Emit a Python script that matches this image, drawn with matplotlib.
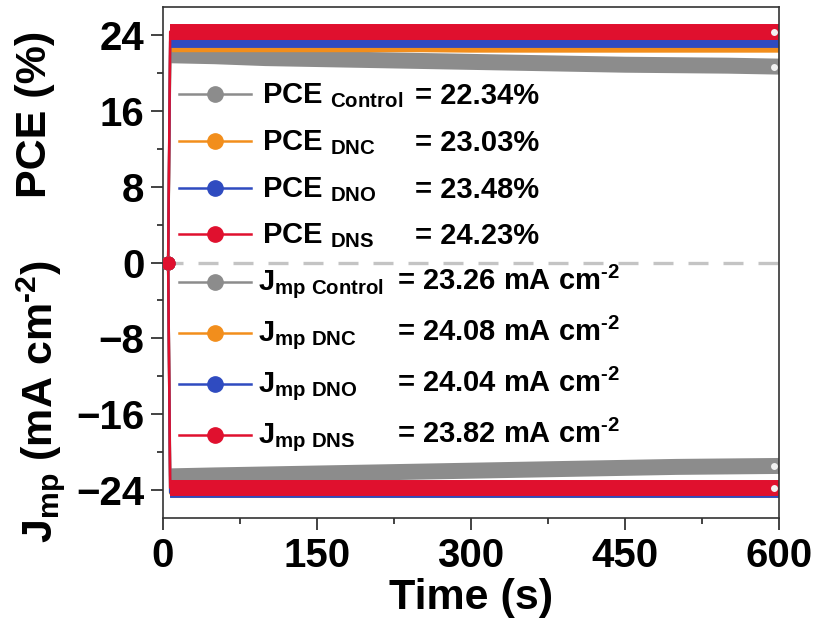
import matplotlib
matplotlib.use("Agg")
import matplotlib.pyplot as plt
from matplotlib.ticker import MultipleLocator

plt.rcParams['font.family'] = ['Liberation Sans', 'DejaVu Sans']
plt.rcParams['font.weight'] = 'bold'
plt.rcParams['mathtext.fontset'] = 'custom'
plt.rcParams['mathtext.rm'] = 'Liberation Sans:bold'
plt.rcParams['mathtext.it'] = 'Liberation Sans:bold'
plt.rcParams['mathtext.bf'] = 'Liberation Sans:bold'

# time points (s)
time_s = [5, 7, 50, 100, 150, 200, 250, 300, 350, 400, 450, 500, 550, 600]

# PCE (%)
pce_control = [0, 21.9, 21.8, 21.6, 21.5, 21.4, 21.3, 21.2, 21.1, 21.0, 20.9, 20.85, 20.8, 20.7]
pce_dnc = [0, 22.7, 22.7, 22.7, 22.7, 22.7, 22.7, 22.65, 22.65, 22.65, 22.65, 22.65, 22.65, 22.65]
pce_dno = [0, 23.35, 23.35, 23.35, 23.35, 23.35, 23.35, 23.35, 23.35, 23.35, 23.35, 23.35, 23.35, 23.35]
pce_dns = [0, 24.4, 24.4, 24.4, 24.4, 24.4, 24.4, 24.4, 24.4, 24.4, 24.4, 24.4, 24.4, 24.4]

# Jmp (mA cm-2)
jmp_control = [0, -22.6, -22.5, -22.4, -22.3, -22.2, -22.1, -22.0, -21.9, -21.8, -21.7, -21.6, -21.55, -21.5]
jmp_dnc = [0, -24.4, -24.4, -24.4, -24.4, -24.4, -24.4, -24.4, -24.4, -24.4, -24.4, -24.4, -24.4, -24.4]
jmp_dno = [0, -24.3, -24.3, -24.3, -24.3, -24.3, -24.3, -24.3, -24.3, -24.3, -24.3, -24.3, -24.3, -24.3]
jmp_dns = [0, -23.8, -23.8, -23.8, -23.8, -23.8, -23.8, -23.8, -23.8, -23.8, -23.8, -23.8, -23.8, -23.8]

names = ['Control', 'DNC', 'DNO', 'DNS']
colors = ['#8c8c8c', '#f28e1c', '#2f4bc0', '#e0102e']
band_widths = [11.5, 6.5, 8.5, 11.5]
pce_series = [pce_control, pce_dnc, pce_dno, pce_dns]
jmp_series = [jmp_control, jmp_dnc, jmp_dno, jmp_dns]
pce_labels = ['22.34%', '23.03%', '23.48%', '24.23%']
jmp_labels = ['23.26', '24.08', '24.04', '23.82']

fig = plt.figure(figsize=(8.16, 6.3), dpi=100)
ax = fig.add_axes([163 / 816, 1 - 518 / 630, 616 / 816, 511 / 630])

ax.axhline(0, color='#c4c4c4', lw=2.4, dashes=(6, 4.5), zorder=1)

for series_group in (pce_series, jmp_series):
    for vals, c, lw in zip(series_group, colors, band_widths):
        ax.plot(time_s, vals, color=c, lw=1.8, zorder=2)
        ax.plot(time_s[1:], vals[1:], color=c, lw=lw, solid_capstyle='butt', zorder=2)

# start points and end highlights
for vals, c in zip(pce_series + jmp_series, colors + colors):
    ax.plot(time_s[0], vals[0], 'o', color=c, ms=9, zorder=3)
ax.plot(time_s[0], pce_dns[0], 'o', color='#e0102e', ms=9, zorder=4)
for vals in (pce_control, pce_dns, jmp_control, jmp_dns):
    ax.plot(time_s[-1] - 5, vals[-1], 'o', color='#f2f2f2', ms=5, mec='none', zorder=4)

ax.set_xlim(0, 600)
ax.set_ylim(-27, 27)
ax.xaxis.set_major_locator(MultipleLocator(150))
ax.xaxis.set_minor_locator(MultipleLocator(75))
ax.yaxis.set_major_locator(MultipleLocator(8))
ax.yaxis.set_minor_locator(MultipleLocator(4))
ax.tick_params(which='major', direction='out', length=8.5, width=1.2, pad=5,
               labelsize=29, color='#222222')
ax.tick_params(which='minor', direction='out', length=4.5, width=1.2, color='#222222')
for sp in ax.spines.values():
    sp.set_linewidth(1.2)
    sp.set_color('#333333')

ax.set_xlabel('Time (s)', fontsize=31, fontweight='bold', labelpad=2)
fig.text(0.043, 1 - 114 / 630, 'PCE (%)', rotation=90, fontsize=31,
         fontweight='bold', ha='center', va='center')
fig.text(0.050, 1 - 402 / 630, r'J$_{mp}$ (mA cm$^{\text{-}2}$)', rotation=90, fontsize=31,
         fontweight='bold', ha='center', va='center')

# legend rows drawn in axes coordinates
pce_rows = [0.830, 0.738, 0.646, 0.556]
jmp_rows = [0.462, 0.362, 0.262, 0.162]
tr = ax.transAxes
for row, name, c, lab in zip(pce_rows, names, colors, pce_labels):
    ax.plot([0.026, 0.143], [row, row], color=c, lw=1.8, transform=tr, zorder=5)
    ax.plot([0.084], [row], 'o', color=c, ms=11, transform=tr, zorder=6)
    ax.text(0.161, row - 0.019, r'PCE $_{%s}$' % name, fontsize=21,
            fontweight='bold', va='baseline', transform=tr)
    ax.text(0.409, row - 0.019, '= ' + lab, fontsize=21,
            fontweight='bold', va='baseline', transform=tr)
for row, name, c, lab in zip(jmp_rows, names, colors, jmp_labels):
    ax.plot([0.026, 0.143], [row, row], color=c, lw=1.8, transform=tr, zorder=5)
    ax.plot([0.084], [row], 'o', color=c, ms=11, transform=tr, zorder=6)
    ax.text(0.154, row - 0.016, r'J$_{mp\ %s}$' % name, fontsize=21,
            fontweight='bold', va='baseline', transform=tr)
    ax.text(0.380, row - 0.016, '= ' + lab + r' mA cm$^{\text{-}2}$', fontsize=21,
            fontweight='bold', va='baseline', transform=tr)

fig.savefig('out.png', dpi=100)
